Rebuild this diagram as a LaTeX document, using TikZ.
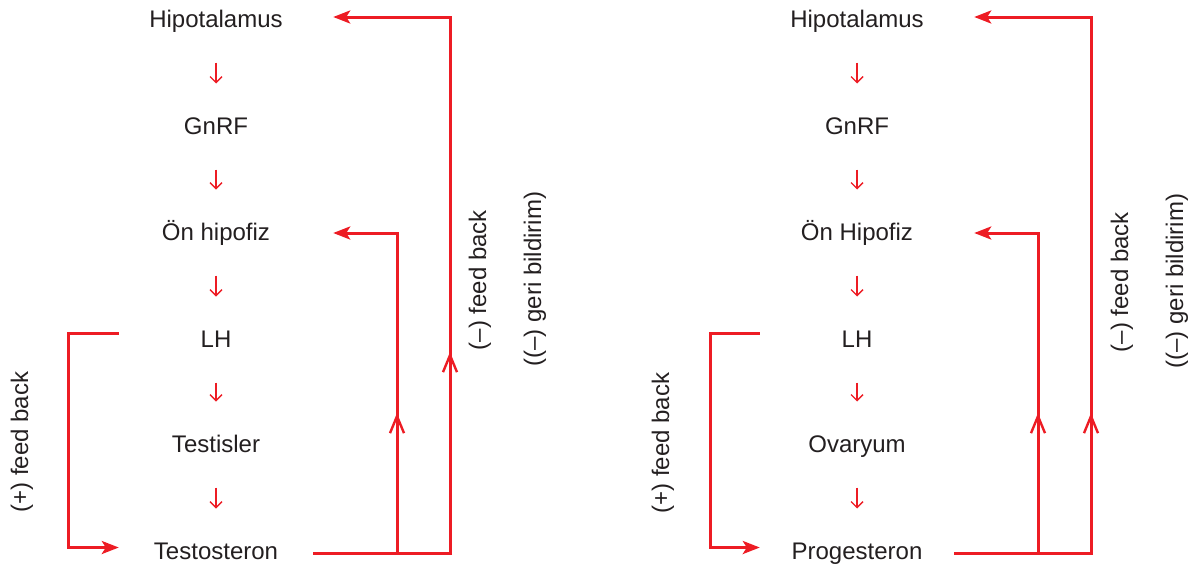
\documentclass[tikz,border=0pt]{standalone}
\usepackage{fontspec}
\setmainfont{Liberation Sans}
\usetikzlibrary{arrows.meta}
\definecolor{fbred}{HTML}{ED1C24}
\definecolor{ink}{HTML}{231F20}
\begin{document}
\begin{tikzpicture}[x=1pt,y=-1pt,
  stage/.style={font=\fontsize{24}{28}\selectfont, text=ink, inner sep=0pt,
    minimum width=194pt, text height=17pt, text depth=0pt, anchor=base},
  sidelabel/.style={font=\fontsize{24}{28}\selectfont, text=ink, inner sep=0pt, rotate=90},
  downarrow/.style={draw=fbred, line width=1.4pt, shorten <=44pt, shorten >=42pt,
    -{Straight Barb[length=6pt,width=12pt]}},
  loopline/.style={draw=fbred, line width=3pt},
  looparrow/.style={loopline, -{Stealth[length=17pt,width=13pt,inset=4pt]}},
  upmark/.style={draw=fbred, line width=2.4pt, -{Straight Barb[length=17pt,width=14pt]}}]
\useasboundingbox (0,0) rectangle (1193,568);

% ---- male axis ----
\node[stage] (mH) at (216,27)  {Hipotalamus};
\node[stage] (mG) at (216,134) {GnRF};
\node[stage] (mO) at (216,240) {Ön hipofiz};
\node[stage] (mL) at (216,347) {LH};
\node[stage] (mT) at (216,452) {Testisler};
\node[stage] (mS) at (216,559) {Testosteron};
\foreach \a/\b in {mH/mG, mG/mO, mO/mL, mL/mT, mT/mS}
  \draw[downarrow] (\a.center) -- (\b.center);

\coordinate (mbr) at (68,0);
\coordinate (min) at (397,0);
\coordinate (mout) at (450,0);
\coordinate (mHin) at ([yshift=1.5pt]mH.east);
\coordinate (mOin) at ([yshift=-1.5pt]mO.east);
\coordinate (mSout) at ([yshift=-2.5pt]mS.east);
\coordinate (mLout) at ([yshift=5.5pt]mL.west);
\coordinate (mSin) at ([yshift=3pt]mS.west);
\draw[looparrow] (mLout) -| (mbr |- mSin) -- (mSin);
\draw[looparrow, shorten >=20pt] (mSout) -| (mout |- mHin) -- (mHin);
\draw[looparrow, shorten >=20pt] (mSout -| min) |- (mOin);
\draw[upmark] (397,432) -- (397,413);
\draw[upmark] (450,371) -- (450,352);

\node[sidelabel] (mplus) at (22,442) {(+) feed back};
\node[sidelabel] (mminus) at (480,280) {(–) feed back};
\node[sidelabel] (mgeri) at (535,279) {((–) geri bildirim)};

% ---- female axis ----
\begin{scope}[xshift=641pt]
\node[stage] (fH) at (216,27)  {Hipotalamus};
\node[stage] (fG) at (216,134) {GnRF};
\node[stage] (fO) at (216,240) {Ön Hipofiz};
\node[stage] (fL) at (216,347) {LH};
\node[stage] (fV) at (216,452) {Ovaryum};
\node[stage] (fP) at (216,559) {Progesteron};
\foreach \a/\b in {fH/fG, fG/fO, fO/fL, fL/fV, fV/fP}
  \draw[downarrow] (\a.center) -- (\b.center);

\coordinate (fbr) at (69,0);
\coordinate (fin) at (397,0);
\coordinate (fout) at (450,0);
\coordinate (fHin) at ([yshift=1.5pt]fH.east);
\coordinate (fOin) at ([yshift=-1.5pt]fO.east);
\coordinate (fPout) at ([yshift=-2.5pt]fP.east);
\coordinate (fLout) at ([yshift=5pt]fL.west);
\coordinate (fPin) at ([yshift=3pt]fP.west);
\draw[looparrow] (fLout) -| (fbr |- fPin) -- (fPin);
\draw[looparrow, shorten >=20pt] (fPout) -| (fout |- fHin) -- (fHin);
\draw[looparrow, shorten >=20pt] (fPout -| fin) |- (fOin);
\draw[upmark] (397,432) -- (397,413);
\draw[upmark] (450,432) -- (450,413);

\node[sidelabel] (fplus) at (22,443) {(+) feed back};
\node[sidelabel] (fminus) at (481,282) {(–) feed back};
\node[sidelabel] (fgeri) at (536,281) {((–) geri bildirim)};
\end{scope}
\end{tikzpicture}
\end{document}
